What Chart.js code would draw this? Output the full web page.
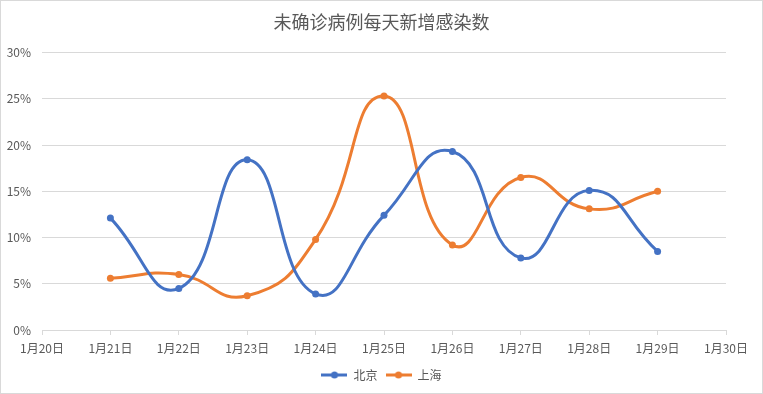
<!DOCTYPE html>
<html>
<head>
<meta charset="utf-8">
<script src="https://cdn.jsdelivr.net/npm/chart.js@4"></script>
<style>
  html, body { margin: 0; padding: 0; background: #fff; }
  #wrap { position: relative; width: 761px; height: 392px; border: 1px solid #d9d9d9; }
</style>
</head>
<body>
<div id="wrap"><canvas id="chart" width="761" height="392"></canvas></div>
<script>
const categories = ['1月20日', '1月21日', '1月22日', '1月23日', '1月24日', '1月25日', '1月26日', '1月27日', '1月28日', '1月29日', '1月30日'];
const beijing = [null, 12.1, 4.5, 18.4, 3.9, 12.4, 19.3, 7.8, 15.1, 8.5, null];
const shanghai = [null, 5.6, 6.0, 3.7, 9.8, 25.3, 9.2, 16.5, 13.1, 15.0, null];
const yTicks = [0, 5, 10, 15, 20, 25, 30];

const FONT = '"Noto Sans CJK SC", "Microsoft YaHei", sans-serif';
const GREY = '#595959';

// 图例标记：线段加圆点
function legendMark(color) {
    const c = document.createElement('canvas');
    c.width = 26; c.height = 10;
    const g = c.getContext('2d');
    g.strokeStyle = color;
    g.lineWidth = 3;
    g.beginPath(); g.moveTo(0, 5); g.lineTo(26, 5); g.stroke();
    g.fillStyle = color;
    g.beginPath(); g.arc(13, 5, 3.5, 0, Math.PI * 2); g.fill();
    return c;
}

const ctx = document.getElementById('chart').getContext('2d');
const chart = new Chart(ctx, {
    type: 'line',
    data: {
        labels: categories,
        datasets: [{
            label: '北京',
            data: beijing,
            borderColor: '#4472c4',
            backgroundColor: '#4472c4',
            borderWidth: 3,
            pointRadius: 3.5,
            pointBorderWidth: 0,
            tension: 0.5
        }, {
            label: '上海',
            data: shanghai,
            borderColor: '#ed7d31',
            backgroundColor: '#ed7d31',
            borderWidth: 3,
            pointRadius: 3.5,
            pointBorderWidth: 0,
            tension: 0.5
        }]
    },
    options: {
        responsive: false,
        animation: false,
        layout: { padding: { left: 0, right: 0, top: 8, bottom: 2 } },
        scales: {
            x: {
                offset: false,
                grid: { drawOnChartArea: false, color: '#d9d9d9', tickLength: 5 },
                border: { color: '#d9d9d9' },
                ticks: { color: GREY, font: { family: FONT, size: 12 }, maxRotation: 0, autoSkip: false, padding: 6 },
                afterFit: s => { s.height = 31; }
            },
            y: {
                min: 0, max: 30,
                afterBuildTicks: s => { s.ticks = yTicks.map(v => ({ value: v })); },
                grid: { color: '#d9d9d9', drawTicks: false },
                border: { display: false },
                ticks: { color: GREY, font: { family: FONT, size: 12 }, padding: 11, callback: v => v + '%' },
                afterFit: s => { s.width = 41; }
            },
            // 右侧留白，使标题和图例居中于整张图
            yRight: {
                position: 'right',
                min: 0, max: 30,
                grid: { display: false },
                border: { display: false },
                ticks: { display: false },
                afterFit: s => { s.width = 36; }
            }
        },
        plugins: {
            title: {
                display: true,
                text: '未确诊病例每天新增感染数',
                color: GREY,
                font: { family: FONT, size: 18, weight: 'normal' },
                padding: { top: 2, bottom: 20 }
            },
            legend: {
                position: 'bottom',
                labels: {
                    usePointStyle: true,
                    pointStyleWidth: 26,
                    color: GREY,
                    font: { family: FONT, size: 12 },
                    padding: 8,
                    generateLabels: c => Chart.defaults.plugins.legend.labels.generateLabels(c).map(l => {
                        l.pointStyle = legendMark(c.data.datasets[l.datasetIndex].borderColor);
                        return l;
                    })
                }
            },
            tooltip: { enabled: false }
        }
    }
});
</script>
</body>
</html>
